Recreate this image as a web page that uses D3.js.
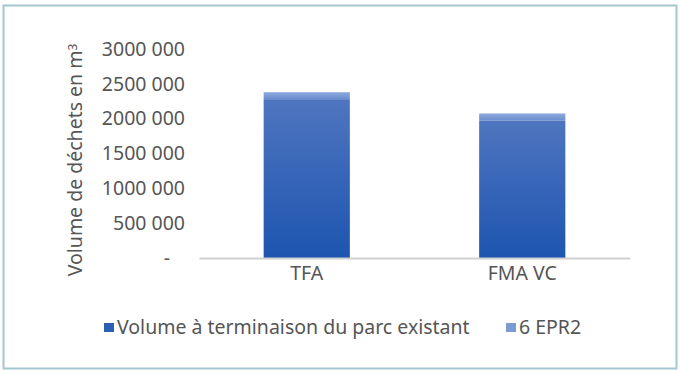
<!DOCTYPE html>
<html>
<head>
<meta charset="utf-8">
<title>Volume de déchets</title>
<script src="https://cdn.jsdelivr.net/npm/d3@7"></script>
<style>
  body { margin: 0; background: #fff; }
  text { font-family: "Noto Sans", sans-serif; fill: #555; }
</style>
</head>
<body>
<script>
// data
let categories = ["TFA", "FMA VC"];
let seriesNames = ["Volume à terminaison du parc existant", "6 EPR2"];
let existant = [2280000, 1970000];
let epr2 = [100000, 105000];
let yTicks = [0, 500000, 1000000, 1500000, 2000000, 2500000, 3000000];
let yTickLabels = ["-", "500 000", "1000 000", "1500 000", "2000 000", "2500 000", "3000 000"];

let width = 680, height = 374;
let fontSize = "19.5px";
let svg = d3.select("body").append("svg")
    .attr("width", width)
    .attr("height", height);

// frame
svg.append("rect")
    .attr("x", 3.5).attr("y", 5.5)
    .attr("width", 673).attr("height", 363)
    .attr("fill", "#fff")
    .attr("stroke", "#a3c7cf")
    .attr("stroke-width", 2);

let defs = svg.append("defs");
let grads = [
    { id: "g0", top: "#4f75bf", bottom: "#1d55b0" },
    { id: "g1", top: "#8eaade", bottom: "#6b8dcd" }
];
grads.forEach(function (g) {
    let lg = defs.append("linearGradient")
        .attr("id", g.id)
        .attr("x1", 0).attr("y1", 0).attr("x2", 0).attr("y2", 1);
    lg.append("stop").attr("offset", "0%").attr("stop-color", g.top);
    lg.append("stop").attr("offset", "100%").attr("stop-color", g.bottom);
});

let x = d3.scaleBand()
    .domain(categories)
    .range([199, 630])
    .paddingInner(0.6)
    .paddingOuter(0.3);

let y = d3.scaleLinear()
    .domain([0, 3000000])
    .range([258, 49]);

// y tick labels
svg.append("g")
    .selectAll("text")
    .data(yTicks)
    .enter().append("text")
    .attr("x", function (d) { return d === 0 ? 170 : 185; })
    .attr("y", function (d) { return y(d); })
    .attr("dy", "0.35em")
    .attr("text-anchor", "end")
    .style("font-size", fontSize)
    .text(function (d, i) { return yTickLabels[i]; });

// bars
let stacked = categories.map(function (c, i) {
    return [
        { cat: c, y0: 0, y1: existant[i], grad: "g0" },
        { cat: c, y0: existant[i], y1: existant[i] + epr2[i], grad: "g1" }
    ];
});
svg.append("g")
    .selectAll("rect")
    .data(d3.merge(stacked))
    .enter().append("rect")
    .attr("x", function (d) { return x(d.cat); })
    .attr("width", x.bandwidth())
    .attr("y", function (d) { return y(d.y1); })
    .attr("height", function (d) { return y(d.y0) - y(d.y1); })
    .attr("fill", function (d) { return "url(#" + d.grad + ")"; });

// x axis
let xAxis = d3.axisBottom(x).tickSize(0).tickPadding(8);
let xg = svg.append("g")
    .attr("transform", "translate(0," + y(0) + ")")
    .call(xAxis);
xg.select(".domain").attr("stroke", "#d0d0d0").attr("stroke-width", 2);
xg.selectAll("text")
    .style("font-family", "'Noto Sans', sans-serif")
    .style("font-size", fontSize)
    .attr("fill", "#555");

// y axis title
let title = svg.append("text")
    .attr("transform", "translate(82,160) rotate(-90)")
    .attr("text-anchor", "middle")
    .style("font-size", fontSize);
title.append("tspan").text("Volume de déchets en m");
title.append("tspan").attr("dy", "-0.45em").style("font-size", "12px").text("3");

// legend
let legendX = [104, 506];
let legend = svg.append("g")
    .selectAll("g")
    .data(seriesNames)
    .enter().append("g")
    .attr("transform", function (d, i) { return "translate(" + legendX[i] + ",322)"; });
legend.append("rect")
    .attr("width", 10).attr("height", 9)
    .attr("y", 1)
    .attr("fill", function (d, i) { return i === 0 ? "#2a5fb5" : "#7d9bd3"; });
legend.append("text")
    .attr("x", 13)
    .attr("y", 5)
    .attr("dy", "0.35em")
    .style("font-size", fontSize)
    .text(function (d) { return d; });
</script>
</body>
</html>
